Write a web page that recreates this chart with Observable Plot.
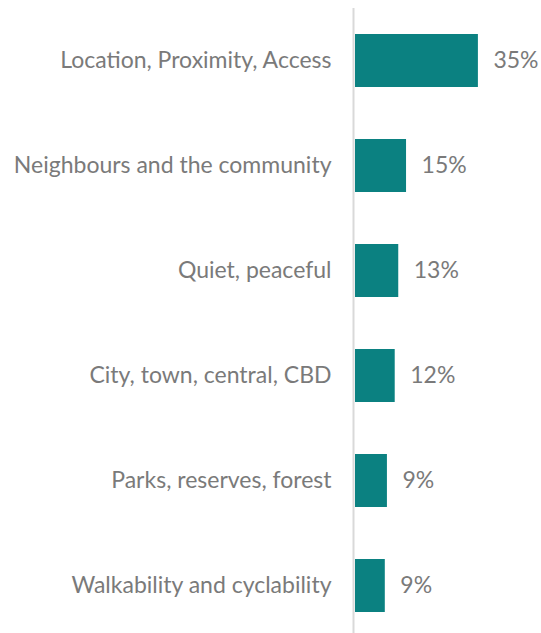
<!DOCTYPE html>
<html>
<head>
<meta charset="utf-8">
<script src="https://cdn.jsdelivr.net/npm/d3@7"></script>
<script src="https://cdn.jsdelivr.net/npm/@observablehq/plot@0.6"></script>
<style>
  html, body { margin: 0; padding: 0; background: #fff; }
  svg { display: block; }
</style>
</head>
<body>
<div id="chart"></div>
<script>
const categories = [
  "Location, Proximity, Access",
  "Neighbours and the community",
  "Quiet, peaceful",
  "City, town, central, CBD",
  "Parks, reserves, forest",
  "Walkability and cyclability"
];
const values = [35, 14.7, 12.5, 11.5, 9.3, 8.7];
const valueLabels = ["35%", "15%", "13%", "12%", "9%", "9%"];

const data = categories.map((c, i) => ({category: c, value: values[i], label: valueLabels[i]}));

const textColor = "#7a7a7a";
const font = "Lato, 'Source Sans Pro', sans-serif";

const chart = Plot.plot({
  width: 541,
  height: 633,
  marginLeft: 354,
  marginRight: 10,
  marginTop: 13,
  marginBottom: 0,
  style: {fontFamily: font, fontSize: "23px", color: textColor, background: "#fff"},
  x: {domain: [0, 50], axis: null},
  y: {domain: categories, paddingInner: 0.5, paddingOuter: 0.2, label: null},
  marks: [
    Plot.barX(data, {x: "value", y: "category", fill: "#0b8181", insetLeft: 1}),
    Plot.ruleX([0], {stroke: "#d9d9d9", strokeWidth: 2, dx: -1, insetTop: -5}),
    Plot.text(data, {x: "value", y: "category", text: "label", textAnchor: "start", dx: 15, fill: textColor, fontSize: 23}),
    Plot.axisY({tickSize: 0, tickPadding: 23, fontSize: 23, fill: textColor, label: null})
  ]
});
document.getElementById("chart").appendChild(chart);
</script>
</body>
</html>
